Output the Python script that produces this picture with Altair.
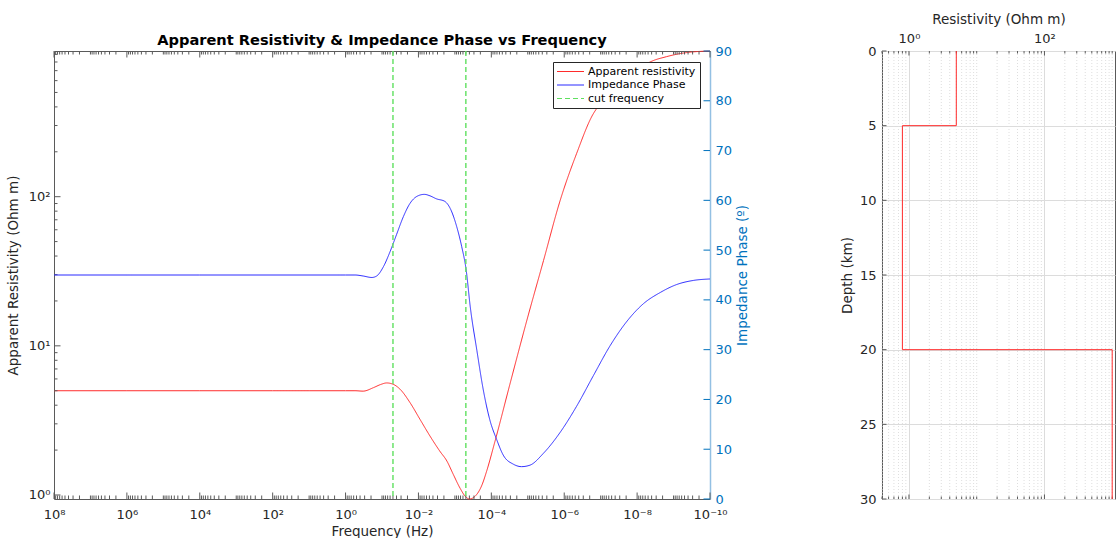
import math
import altair as alt
import pandas as pd

FONT = "DejaVu Sans"
INK = "#262626"
FRAME = "#5a5a5a"
PHASE_BLUE = "#0072BD"

# ---- MT sounding curves ------------------------------------------------------
# apparent resistivity: frequency (Hz) -> Ohm m
rho_freq = [1e8, 1e6, 1e4, 1e2, 1e1, 1.0, 0.55, 0.33, 0.17, 0.11,
            0.074, 0.049, 0.032, 0.017, 0.0091, 0.0048, 0.0026, 0.00166, 0.0011, 7.2e-4,
            5.2e-4, 4.0e-4, 2.8e-4, 1.8e-4, 1.35e-4, 7.9e-5, 3.1e-5, 1.07e-5, 3.7e-6, 1.29e-6,
            4.6e-7, 1.58e-7, 1.26e-7, 5.5e-8, 2.1e-8, 8.3e-9, 4.4e-9, 1.55e-9, 4.4e-10, 1e-10]
rho_vals = [5.0, 5.0, 5.0, 5.0, 5.0, 5.0, 5.0, 4.97, 5.25, 5.5,
            5.64, 5.52, 5.12, 4.16, 3.22, 2.48, 1.97, 1.69, 1.37, 1.11,
            0.98, 0.94, 0.98, 1.17, 1.44, 2.30, 5.52, 14.7, 37.3, 94.5,
            194, 361, 393, 495, 615, 729, 800, 869, 925, 948]

# impedance phase: frequency (Hz) -> degrees
phase_freq = [1e8, 1e4, 1.0, 0.55, 0.33, 0.19, 0.14, 0.091, 0.060, 0.040,
              0.026, 0.017, 0.011, 0.0069, 0.0048, 0.0032, 0.0019, 0.00135, 8.9e-4, 6.5e-4,
              4.9e-4, 3.8e-4, 2.5e-4, 1.66e-4, 1.1e-4, 7.1e-5, 4.7e-5, 2.5e-5, 1.48e-5, 8.7e-6,
              3.7e-6, 1.29e-6, 4.6e-7, 1.58e-7, 5.5e-8, 1.95e-8, 6.8e-9, 2.3e-9, 8.1e-10, 2.9e-10,
              1e-10]
phase_vals = [45, 45, 45, 45, 44.8, 44.5, 44.8, 46.7, 49.7, 53.1,
              56.7, 59.4, 60.8, 61.2, 60.9, 60.3, 59.8, 58.4, 54.7, 50.7,
              46.0, 38.7, 29.9, 21.9, 15.9, 11.9, 8.8, 7.0, 6.5, 6.8,
              9.2, 13.4, 18.6, 24.8, 30.8, 35.6, 39.2, 41.5, 43.1, 43.9,
              44.2]

# cut frequencies (Hz)
cut_freqs = [5e-2, 5e-4]

# ---- layered earth model -----------------------------------------------------
model_depth = [0, 5, 5, 20, 20, 30]          # km
model_rho = [5, 5, 0.8, 0.8, 1000, 1000]     # Ohm m

series_names = ["Apparent resistivity", "Impedance Phase", "cut frequency"]
series_colors = ["#ff2b2b", "#2b2bff", "#5fe05f"]
series_dash = [[1, 0], [1, 0], [5, 3]]

# ---- tick labels -------------------------------------------------------------
freq_tick_vals = [1e8, 1e6, 1e4, 1e2, 1e0, 1e-2, 1e-4, 1e-6, 1e-8, 1e-10]
freq_tick_text = ["10⁸", "10⁶", "10⁴", "10²", "10⁰", "10⁻²", "10⁻⁴", "10⁻⁶", "10⁻⁸", "10⁻¹⁰"]
rho_tick_vals = [1, 10, 100]
rho_tick_text = ["10⁰", "10¹", "10²"]
phase_tick_vals = [0, 10, 20, 30, 40, 50, 60, 70, 80, 90]
model_tick_vals = [1, 100]
model_tick_text = ["10⁰", "10²"]
depth_tick_vals = [0, 5, 10, 15, 20, 25, 30]


def label_expr(values, texts):
    """Vega expression that maps log tick values to superscript labels."""
    expr = "''"
    for v, t in reversed(list(zip(values, texts))):
        e = math.log10(v)
        expr = f"abs(log(datum.value) / LN10 - ({e:.6f})) < 0.01 ? '{t}' : ({expr})"
    return expr


def log_tick_positions(lo, hi, labelled):
    """Major (labelled decades) and minor positions of a log axis."""
    major, minor = [], []
    for d in range(math.floor(math.log10(lo)), math.ceil(math.log10(hi)) + 1):
        for m in range(1, 10):
            v = m * 10.0 ** d
            if lo * (1 - 1e-9) <= v <= hi * (1 + 1e-9):
                if m == 1 and any(abs(v - t) <= 1e-9 * t for t in labelled):
                    major.append(v)
                else:
                    minor.append(v)
    return major, minor


def ticks_x(values, scale, axis, y_from, y_to, color=FRAME):
    """Inward tick marks along a horizontal edge."""
    return alt.Chart(pd.DataFrame({"t": values})).mark_rule(color=color, strokeWidth=1).encode(
        x=alt.X("t:Q", scale=scale, axis=axis), y=alt.value(y_from), y2=alt.value(y_to))


def ticks_y(values, scale, axis, x_from, x_to, color=FRAME):
    """Inward tick marks along a vertical edge."""
    return alt.Chart(pd.DataFrame({"t": values})).mark_rule(color=color, strokeWidth=1).encode(
        y=alt.Y("t:Q", scale=scale, axis=axis), x=alt.value(x_from), x2=alt.value(x_to))


# ============================ sounding panel ==================================
W1, H1 = 656, 448
MAJ, MIN = 6.5, 3.5

freq_scale = alt.Scale(type="log", domain=[1e-10, 1e8], reverse=True, nice=False)
rho_scale = alt.Scale(type="log", domain=[min(rho_vals), max(rho_vals)], nice=False)
phase_scale = alt.Scale(domain=[0, 90], nice=False)

legend = alt.Legend(
    orient="none", legendX=499, legendY=11, title=None, direction="vertical",
    fillColor="white", strokeColor=INK, padding=4, rowPadding=1.5,
    labelFont=FONT, labelFontSize=11, labelColor="#000000",
    symbolType="M-2.7,0H2.7", symbolSize=100, symbolStrokeWidth=1,
    symbolOffset=8, labelOffset=12,
)
color_enc = alt.Color("series:N", scale=alt.Scale(domain=series_names, range=series_colors), legend=legend)
dash_enc = alt.StrokeDash("series:N", scale=alt.Scale(domain=series_names, range=series_dash), legend=legend)

freq_axis = alt.Axis(
    values=freq_tick_vals, labelExpr=label_expr(freq_tick_vals, freq_tick_text),
    title="Frequency (Hz)", ticks=False, domain=False, grid=False,
    labelPadding=9, titlePadding=3, labelFlush=False, labelOverlap=False,
)
rho_axis = alt.Axis(
    orient="left", values=rho_tick_vals, labelExpr=label_expr(rho_tick_vals, rho_tick_text),
    title="Apparent Resistivity (Ohm m)", ticks=False, domain=False, grid=False,
    labelPadding=4, titlePadding=8,
)
phase_axis = alt.Axis(
    orient="right", values=phase_tick_vals, title="Impedance Phase (º)",
    titleAngle=270, titleBaseline="top",
    ticks=False, grid=False, domain=True, domainColor="#93c0e3", domainWidth=1.5,
    labelColor=PHASE_BLUE, titleColor=PHASE_BLUE, labelPadding=5, titlePadding=4,
)

df_rho = pd.DataFrame({"f": rho_freq, "value": rho_vals, "series": series_names[0]})
df_phase = pd.DataFrame({"f": phase_freq, "value": phase_vals, "series": series_names[1]})
df_cut = pd.DataFrame({"f": cut_freqs, "series": series_names[2]})

f_major, f_minor = log_tick_positions(1e-10, 1e8, freq_tick_vals)
r_major, r_minor = log_tick_positions(min(rho_vals), max(rho_vals), rho_tick_vals)

red = alt.Chart(df_rho).mark_line(strokeWidth=1, interpolate="monotone").encode(
    x=alt.X("f:Q", scale=freq_scale, axis=freq_axis),
    y=alt.Y("value:Q", scale=rho_scale, axis=rho_axis),
    color=color_enc, strokeDash=dash_enc,
)
blue = alt.Chart(df_phase).mark_line(strokeWidth=1, interpolate="monotone").encode(
    x=alt.X("f:Q", scale=freq_scale, axis=freq_axis),
    y=alt.Y("value:Q", scale=phase_scale, axis=phase_axis),
    color=color_enc, strokeDash=dash_enc,
)
cut = alt.Chart(df_cut).mark_rule(strokeWidth=1.4).encode(
    x=alt.X("f:Q", scale=freq_scale, axis=freq_axis),
    color=color_enc, strokeDash=dash_enc,
)

res_layer = alt.layer(
    red,
    ticks_x(f_minor, freq_scale, freq_axis, H1, H1 - MIN),
    ticks_x(f_major, freq_scale, freq_axis, H1, H1 - MAJ),
    ticks_x(f_minor, freq_scale, freq_axis, 0, MIN),
    ticks_x(f_major, freq_scale, freq_axis, 0, MAJ),
    ticks_y(r_minor, rho_scale, rho_axis, 0, MIN),
    ticks_y(r_major, rho_scale, rho_axis, 0, MAJ),
)
phase_layer = alt.layer(
    blue,
    cut,
    ticks_y(phase_tick_vals, phase_scale, phase_axis, W1 - MAJ, W1, color=PHASE_BLUE),
)

sounding = alt.layer(res_layer, phase_layer).resolve_scale(y="independent").properties(
    width=W1, height=H1,
    title=alt.TitleParams(
        "Apparent Resistivity & Impedance Phase vs Frequency",
        font=FONT, fontSize=14.6, fontWeight="bold", color="#000000",
        offset=-3, anchor="middle", frame="group",
    ),
)

# ============================== model panel ===================================
W2, H2 = 233, 448
MAJ2, MIN2 = 4.5, 2.5

mx_lo, mx_hi = 0.4, 1100
mx_scale = alt.Scale(type="log", domain=[mx_lo, mx_hi], nice=False)
depth_scale = alt.Scale(domain=[0, 30], reverse=True, nice=False)

m_major, m_minor = log_tick_positions(mx_lo, mx_hi, model_tick_vals)

mx_axis = alt.Axis(
    orient="top", values=model_tick_vals, labelExpr=label_expr(model_tick_vals, model_tick_text),
    title="Resistivity (Ohm m)", ticks=False, domain=False, grid=True,
    gridColor="#dcdcdc", labelPadding=6, titlePadding=6, labelFlush=False,
)
depth_axis = alt.Axis(
    values=depth_tick_vals, title="Depth (km)", ticks=False, domain=False, grid=True,
    gridColor="#dcdcdc", labelPadding=6, titlePadding=5,
)

df_model = pd.DataFrame({"rho": model_rho, "depth": model_depth, "step": list(range(len(model_rho)))})

minor_grid = alt.Chart(pd.DataFrame({"t": m_minor})).mark_rule(
    color="#dedede", strokeWidth=1, strokeDash=[1, 2]
).encode(x=alt.X("t:Q", scale=mx_scale, axis=mx_axis))

stairs = alt.Chart(df_model).mark_line(color=series_colors[0], strokeWidth=1).encode(
    x=alt.X("rho:Q", scale=mx_scale, axis=mx_axis),
    y=alt.Y("depth:Q", scale=depth_scale, axis=depth_axis),
    order=alt.Order("step:Q"),
)

model = alt.layer(
    minor_grid,
    ticks_x(m_minor, mx_scale, mx_axis, 0, MIN2),
    ticks_x(m_major, mx_scale, mx_axis, 0, MAJ2),
    ticks_x(m_minor, mx_scale, mx_axis, H2, H2 - MIN2),
    ticks_x(m_major, mx_scale, mx_axis, H2, H2 - MAJ2),
    ticks_y(depth_tick_vals, depth_scale, depth_axis, 0, MAJ2),
    stairs,
).properties(width=W2, height=H2)

chart = alt.hconcat(sounding, model, spacing=89).properties(
    padding={"left": 5, "top": 11, "right": 0, "bottom": 0},
    background="white",
).configure_view(
    stroke=FRAME, strokeWidth=1,
).configure_axis(
    labelFont=FONT, titleFont=FONT, labelFontSize=13, titleFontSize=13.5,
    labelColor=INK, titleColor=INK, titleFontWeight="normal",
)

chart.save("out.html", embed_options={"renderer": "svg", "actions": False})
